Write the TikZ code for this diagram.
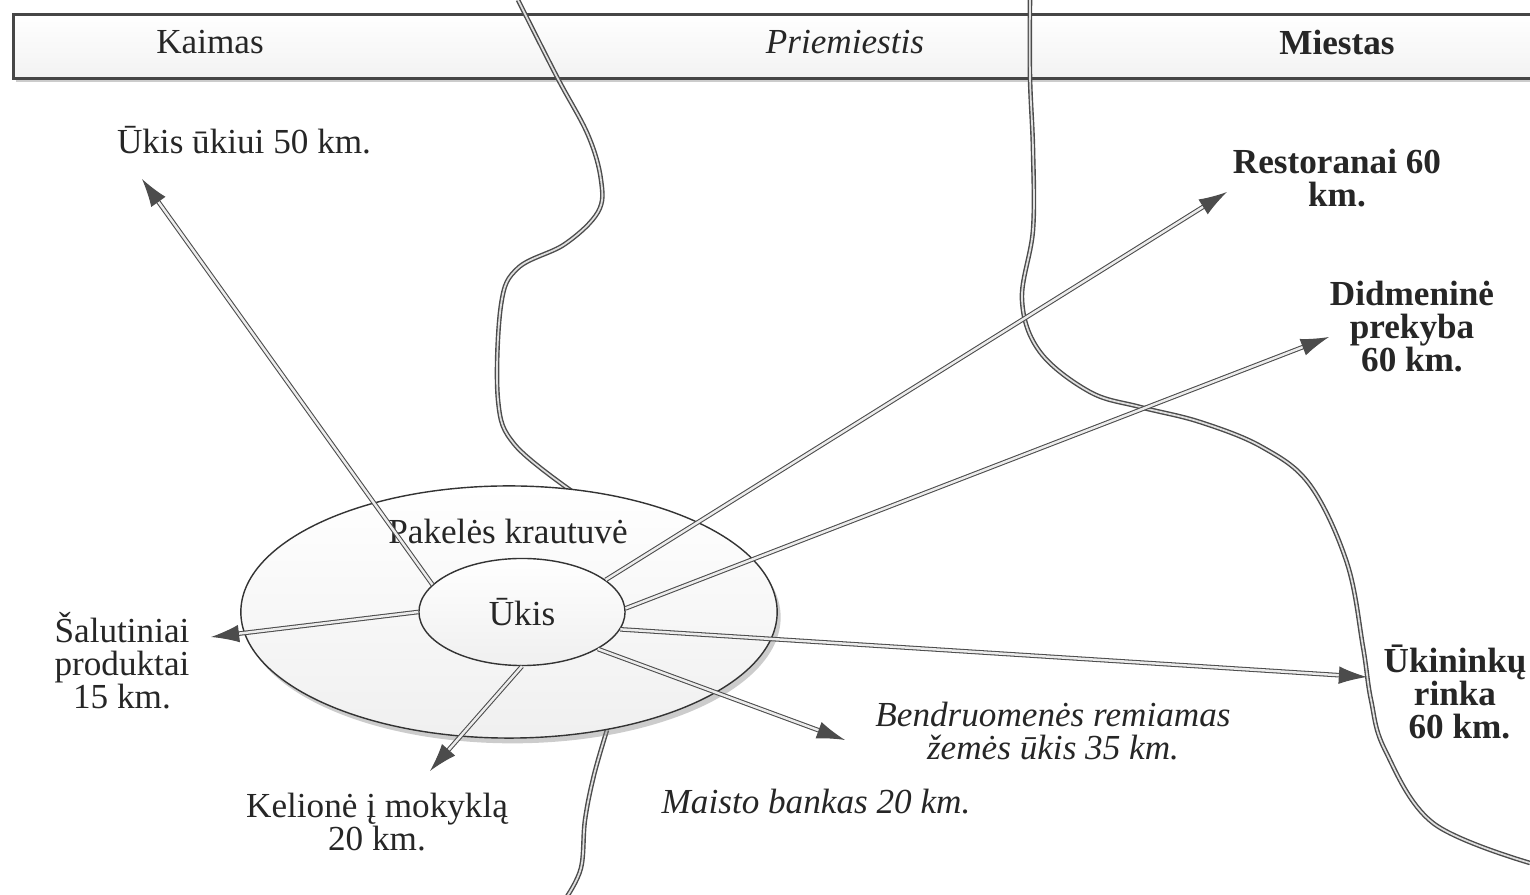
\documentclass[tikz,border=0pt]{standalone}
\usepackage{fontspec}
\setmainfont{Liberation Serif}
\usetikzlibrary{shapes.geometric,arrows.meta,shadows}

\begin{document}
\begin{tikzpicture}[
    x=0.01cm, y=-0.01cm,
    >={Latex[length=8pt,width=5pt]},
    every node/.style={font=\fontsize{10}{9.4}\selectfont, align=center, inner sep=0pt, text=black!85},
    boldtext/.style={font=\fontsize{10}{9.4}\selectfont\bfseries},
    ittext/.style={font=\fontsize{10}{9.4}\selectfont\itshape},
    zone/.style={draw=gray!60!black, line width=0.4pt, double=gray!25, double distance=0.5pt},
    link/.style={->, draw=gray!60!black, line width=0.3pt, double=gray!15, double distance=0.7pt},
    ring/.style={ellipse, draw=gray!40!black, thin, top color=white, bottom color=gray!12}
]
    \useasboundingbox (0,0) rectangle (1530,895);

    % juosta virsuje
    \node[draw=gray!55!black, thick, top color=white, bottom color=gray!10,
          drop shadow={opacity=0.4, shadow xshift=0.8pt, shadow yshift=-1pt},
          minimum width=15.4cm, minimum height=0.64cm, anchor=north west] (band) at (12,13) {};
    \node (kaimas) at (210,42) {Kaimas};
    \node[ittext] (priem) at (845,42) {Priemiestis};
    \node[boldtext] (miestas) at (1337,42) {Miestas};

    % ribos
    \draw[zone] plot[smooth, tension=0.6] coordinates {(518,0) (557,77) (588,135) (601,180) (598,212)
        (565,244) (518,268) (501,305) (498,400) (515,445) (573,492)};
    \draw[zone] plot[smooth, tension=0.6] coordinates {(1030,0) (1030,77) (1033,150) (1033,230) (1022,300)
        (1040,352) (1090,392) (1140,407) (1200,422) (1262,447) (1310,485) (1347,563) (1363,647)
        (1371,700) (1385,750) (1433,823) (1530,863)};
    \draw[zone] plot[smooth, tension=0.6] coordinates {(607,730) (594,775) (585,820) (581,868) (566,898)};

    % parduotuve ir ukis
    \node[ring, drop shadow={opacity=0.4, shadow xshift=1pt, shadow yshift=-1.5pt},
          minimum width=5.36cm, minimum height=2.52cm] (store) at (509,612) {};
    \node (storetext) at (508,531) {Pakelės krautuvė};
    \node[ring, minimum width=2.06cm, minimum height=1.07cm] (farm) at (522,612) {Ūkis};

    % tikslai
    \node (farm2farm) at (244,140) {Ūkis ūkiui 50 km.};
    \node[boldtext] (rest) at (1337,178) {Restoranai 60\\km.};
    \node[boldtext] (whole) at (1412,327) {Didmeninė\\prekyba\\60 km.};
    \node[boldtext] (market) at (1455,692) {Ūkininkų\\rinka\\~60 km.};
    \node[ittext] (csa) at (1053,731) {Bendruomenės remiamas\\žemės ūkis 35 km.};
    \node[ittext] (foodbank) at (816,802) {Maisto bankas 20 km.};
    \node (school) at (377,822) {Kelionė į mokyklą\\20 km.};
    \node (byprod) at (122,661) {Šalutiniai\\produktai\\15 km.};

    \coordinate (tFarm) at (142,179);
    \coordinate (tRest) at (1227,192);
    \coordinate (tWhole) at (1329,337);
    \coordinate (tMarket) at (1367,677);
    \coordinate (tCsa) at (845,740);
    \coordinate (tSchool) at (430,771);
    \coordinate (tByprod) at (211,637);

    \path (farm.163) edge[link] (tFarm);
    \path (farm.21) edge[link] (tRest);
    \path (farm.2) edge[link] (tWhole);
    \path (farm.-10) edge[link] (tMarket);
    \path (farm.-26) edge[link] (tCsa);
    \path (farm.270) edge[link] (tSchool);
    \path (farm.180) edge[link] (tByprod);
\end{tikzpicture}
\end{document}
